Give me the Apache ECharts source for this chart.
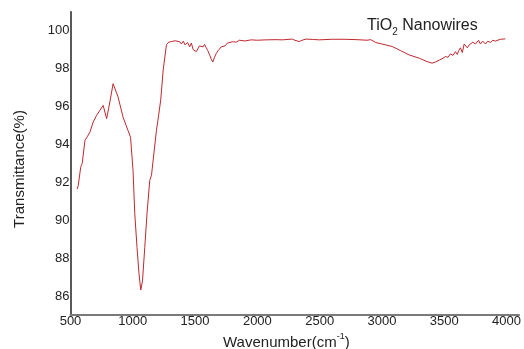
<!DOCTYPE html>
<html>
<head>
<meta charset="utf-8">
<script src="https://cdn.jsdelivr.net/npm/echarts@6/dist/echarts.min.js"></script>
<style>html,body{margin:0;padding:0;background:#fff}#c{width:524px;height:349px}</style>
</head>
<body>
<div id="c"></div>
<script>
var wavenumbers = [554,562,582,594,616,634,656,682,710,736,762,790,816,842,882,922,962,982,1002,1016,1034,1050,1064,1078,1096,1114,1136,1150,1190,1202,1224,1244,1270,1290,1310,1325,1340,1355,1376,1390,1405,1420,1440,1456,1470,1485,1496,1510,1522,1535,1550,1565,1576,1590,1602,1618,1630,1642,1656,1670,1685,1696,1710,1722,1740,1760,1776,1800,1830,1856,1900,1950,2000,2070,2150,2200,2280,2300,2336,2360,2390,2450,2496,2600,2696,2800,2880,2910,2950,3000,3082,3150,3216,3300,3362,3402,3430,3460,3490,3510,3530,3550,3570,3590,3605,3616,3630,3645,3660,3670,3685,3700,3712,3730,3750,3776,3790,3810,3830,3850,3870,3890,3910,3950,3990];
var transmittance = [91.65,91.83,92.80,93.0,94.21,94.4,94.65,95.18,95.54,95.80,96.06,95.36,96.24,97.21,96.5,95.44,94.73,94.38,92.62,90.34,88.56,87.17,86.32,86.8,88.56,90.34,92.1,92.37,94.75,95.28,96.34,97.93,99.26,99.40,99.43,99.35,99.47,99.38,99.42,99.3,99.45,99.25,99.38,99.15,99.35,99.0,99.1,98.9,99.0,99.2,99.3,99.15,99.28,99.1,98.95,98.7,98.5,98.35,98.6,98.8,98.95,99.05,99.15,99.25,99.2,99.35,99.3,99.42,99.4,99.5,99.46,99.52,99.5,99.52,99.53,99.52,99.56,99.5,99.43,99.5,99.56,99.54,99.52,99.55,99.55,99.53,99.5,99.53,99.38,99.3,99.17,98.95,98.73,98.55,98.37,98.29,98.35,98.45,98.55,98.64,98.6,98.78,98.7,98.9,98.75,98.95,99.1,98.85,99.3,99.35,99.1,99.25,99.15,99.4,99.3,99.5,99.3,99.45,99.3,99.45,99.38,99.5,99.45,99.55,99.57];
var xTickStep = 500;
var yLabelValues = [86,88,90,92,94,96,98,100];

var chart = echarts.init(document.getElementById('c'), null, {renderer:'canvas'});
var pts = wavenumbers.map(function(w,i){return [w, transmittance[i]];});
var fontFam = '"Liberation Sans", Arial, sans-serif';
chart.setOption({
  animation:false,
  backgroundColor:'#fff',
  grid:{left:70.5, right:3.5, top:11.8, bottom:34, containLabel:false},
  title:[{
    text:'{a|TiO}{s|2}{a| Nanowires}',
    left:362, top:11,
    textStyle:{fontWeight:'normal', rich:{
      a:{fontSize:16, fontFamily:fontFam, fontWeight:'normal', color:'#222', verticalAlign:'bottom', lineHeight:18},
      s:{fontSize:10, fontFamily:fontFam, fontWeight:'normal', color:'#222', verticalAlign:'bottom', padding:[0,0,-3,0], lineHeight:14}
    }}
  },{
    text:'{a|Wavenumber(cm}{s|-1}{a|)}',
    left:218, top:327,
    textStyle:{fontWeight:'normal', rich:{
      a:{fontSize:15, fontFamily:fontFam, fontWeight:'normal', color:'#222', lineHeight:18, verticalAlign:'bottom'},
      s:{fontSize:9, fontFamily:fontFam, fontWeight:'normal', color:'#222', lineHeight:18, verticalAlign:'top', padding:[0,0,8,0]}
    }}
  }],
  graphic:[{
    type:'text', x:20, y:169, rotation:Math.PI/2,
    style:{text:'Transmittance(%)', font:'15px "Liberation Sans", Arial, sans-serif', fill:'#222', textAlign:'center', textVerticalAlign:'middle'}
  }],
  xAxis:{
    type:'value', min:500, max:4100, interval:xTickStep,
    axisLine:{show:true, lineStyle:{color:'#7a7a7a', width:2}},
    axisTick:{show:false}, splitLine:{show:false},
    axisLabel:{margin:0, fontSize:13, fontFamily:fontFam, color:'#222',
      formatter:function(v){return (v % xTickStep === 0 && v <= 4000) ? String(v) : '';}}
  },
  yAxis:{
    type:'value', min:85, max:101, interval:1,
    axisLine:{show:true, lineStyle:{color:'#222', width:1.5}},
    axisTick:{show:false}, splitLine:{show:false},
    axisLabel:{margin:1, fontSize:13, fontFamily:fontFam, color:'#222',
      formatter:function(v){return yLabelValues.indexOf(v) >= 0 ? String(v) : '';}}
  },
  series:[{
    type:'line', data:pts, showSymbol:false, smooth:false,
    lineStyle:{color:'#c0282f', width:1},
    itemStyle:{color:'#c0282f'}
  }]
});
</script>
</body>
</html>
